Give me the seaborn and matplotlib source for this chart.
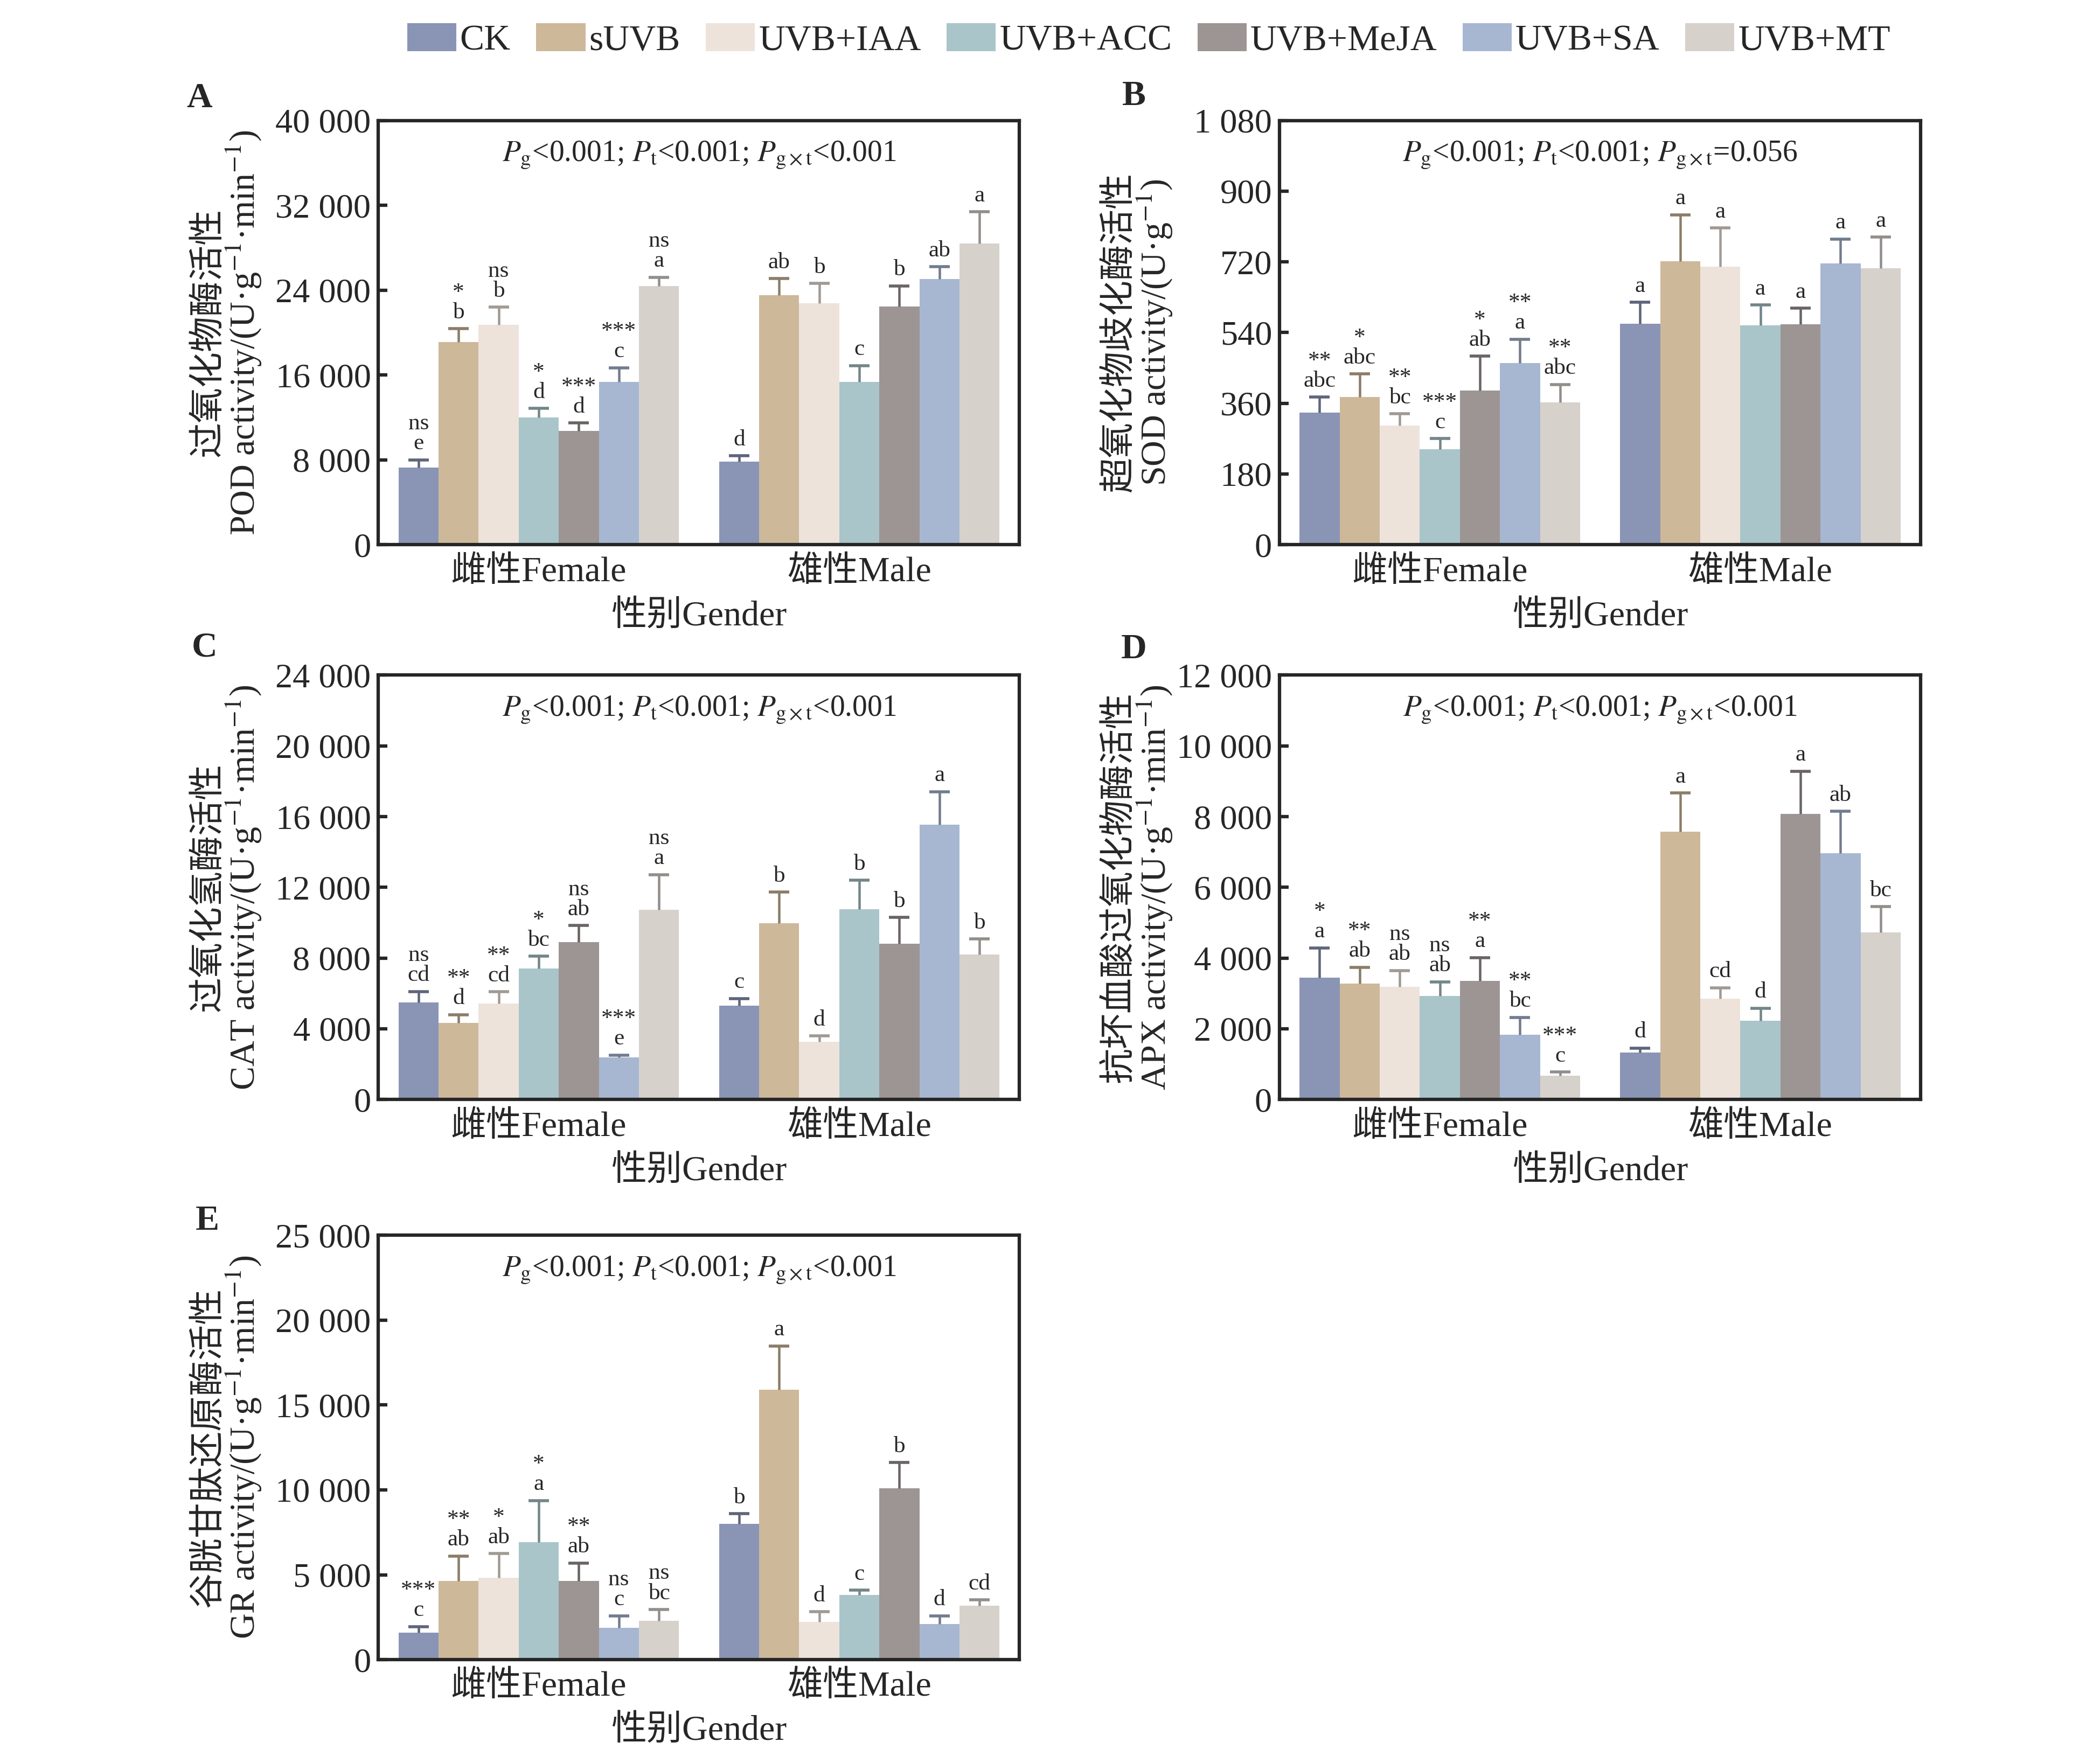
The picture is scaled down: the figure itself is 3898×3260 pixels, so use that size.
import numpy as np
import pandas as pd
import matplotlib
matplotlib.use("Agg")
import matplotlib.pyplot as plt
import seaborn as sns
from matplotlib.patches import Patch
from matplotlib.ticker import FuncFormatter
from matplotlib.colors import to_rgb

# treatments / groups
treatments = ["CK", "sUVB", "UVB+IAA", "UVB+ACC", "UVB+MeJA", "UVB+SA", "UVB+MT"]
genders = ["雌性Female", "雄性Male"]
colors = ["#8a95b5", "#cdb89a", "#ede3da", "#a9c5c9", "#9c9593", "#a7b7d1", "#d7d1cc"]

# A  POD
pod_f = [7300, 19100, 20750, 12000, 10750, 15350, 24400]
pod_f_err = [700, 1270, 1640, 850, 720, 1330, 820]
pod_m = [7850, 23550, 22750, 15350, 22450, 25050, 28400]
pod_m_err = [520, 1540, 1880, 1540, 1950, 1160, 3000]
pod_f_sig = ["ns\ne", "*\nb", "ns\nb", "*\nd", "***\nd", "***\nc", "ns\na"]
pod_m_sig = ["d", "ab", "b", "c", "b", "ab", "a"]

# B  SOD
sod_f = [336, 376, 303, 243, 392, 463, 362]
sod_f_err = [40, 59, 30, 27, 88, 60, 46]
sod_m = [563, 722, 708, 558, 561, 716, 704]
sod_m_err = [54, 118, 98, 52, 41, 62, 79]
sod_f_sig = ["**\nabc", "*\nabc", "**\nbc", "***\nc", "*\nab", "**\na", "**\nabc"]
sod_m_sig = ["a", "a", "a", "a", "a", "a", "a"]

# C  CAT
cat_f = [5500, 4320, 5420, 7400, 8900, 2370, 10720]
cat_f_err = [610, 470, 675, 700, 940, 140, 2000]
cat_m = [5300, 9960, 3270, 10760, 8820, 15530, 8200]
cat_m_err = [410, 1760, 330, 1640, 1470, 1880, 880]
cat_f_sig = ["ns\ncd", "**\nd", "**\ncd", "*\nbc", "ns\nab", "***\ne", "ns\na"]
cat_m_sig = ["c", "b", "d", "b", "b", "a", "b"]

# D  APX
apx_f = [3440, 3270, 3180, 2920, 3360, 1830, 675]
apx_f_err = [850, 470, 470, 410, 655, 490, 100]
apx_m = [1320, 7580, 2850, 2220, 8070, 6970, 4720]
apx_m_err = [133, 1085, 307, 358, 1217, 1176, 737]
apx_f_sig = ["*\na", "**\nab", "ns\nab", "ns\nab", "**\na", "**\nbc", "***\nc"]
apx_m_sig = ["d", "a", "cd", "d", "a", "ab", "bc"]

# E  GR
gr_f = [1580, 4620, 4810, 6920, 4620, 1880, 2300]
gr_f_err = [360, 1480, 1435, 2450, 1077, 700, 655]
gr_m = [8000, 15890, 2220, 3820, 10090, 2110, 3170]
gr_m_err = [590, 2600, 590, 275, 1520, 465, 340]
gr_f_sig = ["***\nc", "**\nab", "*\nab", "*\na", "**\nab", "ns\nc", "ns\nbc"]
gr_m_sig = ["b", "a", "d", "c", "b", "d", "cd"]

p_all = r"$P_{\mathrm{g}}$<0.001; $P_{\mathrm{t}}$<0.001; $P_{\mathrm{g\times t}}$<0.001"
p_sod = r"$P_{\mathrm{g}}$<0.001; $P_{\mathrm{t}}$<0.001; $P_{\mathrm{g\times t}}$=0.056"

sns.set_style("ticks")
plt.rcParams['font.family'] = ['Liberation Serif', 'Noto Sans CJK SC']
plt.rcParams['mathtext.fontset'] = 'stix'
plt.rcParams['axes.unicode_minus'] = True


def fmt(v, pos):
    return f"{int(round(v)):,}".replace(",", " ")


def draw_panel(ax, f, f_err, m, m_err, f_sig, m_sig, ymax, ystep, ylabel, ptext, lab_x):
    df = pd.DataFrame({
        "Gender": np.repeat(genders, len(treatments)),
        "Treatment": treatments * 2,
        "Value": f + m,
    })
    sns.barplot(data=df, x="Gender", y="Value", hue="Treatment", hue_order=treatments,
                palette=colors, width=0.875, errorbar=None, saturation=1, legend=False,
                linewidth=0, ax=ax)
    errs = [f_err, m_err]
    sigs = [f_sig, m_sig]
    bar_conts = list(ax.containers)
    for i, cont in enumerate(bar_conts):
        ecol = tuple(np.array(to_rgb(colors[i])) * 0.68)
        for j, bar in enumerate(cont):
            x = bar.get_x() + bar.get_width() / 2
            h = bar.get_height()
            e = errs[j][i]
            eb = ax.errorbar(x, h, yerr=[[0], [e]], fmt="none", ecolor=ecol,
                             elinewidth=1.3, capsize=5.5, capthick=1.6)
            # only the upper cap is shown
            for cap in eb[1]:
                if np.allclose(cap.get_ydata(), h):
                    cap.set_visible(False)
            ax.annotate(sigs[j][i], (x, h + e), xytext=(0, 3), textcoords="offset points",
                        ha="center", va="bottom", fontsize=12.5, linespacing=0.95)
    ax.set_xlim(-0.5, 1.5)
    ax.set_ylim(0, ymax)
    ax.set_yticks(np.arange(0, ymax + ystep / 2, ystep))
    ax.yaxis.set_major_formatter(FuncFormatter(fmt))
    ax.tick_params(axis="both", direction="in", length=5, width=1.8)
    ax.tick_params(axis="y", labelsize=18.5, pad=4)
    ax.tick_params(axis="x", labelsize=19, pad=6)
    for s in ax.spines.values():
        s.set_linewidth(1.8)
        s.set_visible(True)
    ax.set_xlabel("性别Gender", fontsize=19, labelpad=6)
    ax.set_ylabel(ylabel, fontsize=19, linespacing=0.97)
    ax.yaxis.set_label_coords(lab_x, 0.5)
    ax.text(0.5, 0.918, ptext, transform=ax.transAxes, ha="center", va="center", fontsize=16)


fig = plt.figure(figsize=(15.592, 13.04), dpi=250)
w, h = 0.3053, 0.2416
axA = fig.add_axes([0.1802, 0.6898, w, h])
axB = fig.add_axes([0.6093, 0.6898, w, h])
axC = fig.add_axes([0.1802, 0.3739, w, h])
axD = fig.add_axes([0.6093, 0.3739, w, h])
axE = fig.add_axes([0.1802, 0.0549, w, h])

draw_panel(axA, pod_f, pod_f_err, pod_m, pod_m_err, pod_f_sig, pod_m_sig, 40000, 8000,
           "过氧化物酶活性\nPOD activity/(U·g$^{-1}$·min$^{-1}$)", p_all, -0.18)
draw_panel(axB, sod_f, sod_f_err, sod_m, sod_m_err, sod_f_sig, sod_m_sig, 1080, 180,
           "超氧化物歧化酶活性\nSOD activity/(U·g$^{-1}$)", p_sod, -0.165)
draw_panel(axC, cat_f, cat_f_err, cat_m, cat_m_err, cat_f_sig, cat_m_sig, 24000, 4000,
           "过氧化氢酶活性\nCAT activity/(U·g$^{-1}$·min$^{-1}$)", p_all, -0.18)
draw_panel(axD, apx_f, apx_f_err, apx_m, apx_m_err, apx_f_sig, apx_m_sig, 12000, 2000,
           "抗坏血酸过氧化物酶活性\nAPX activity/(U·g$^{-1}$·min$^{-1}$)", p_all, -0.165)
draw_panel(axE, gr_f, gr_f_err, gr_m, gr_m_err, gr_f_sig, gr_m_sig, 25000, 5000,
           "谷胱甘肽还原酶活性\nGR activity/(U·g$^{-1}$·min$^{-1}$)", p_all, -0.18)

for letter, x, y in [("A", 0.095, 0.944), ("B", 0.540, 0.945), ("C", 0.0975, 0.631),
                     ("D", 0.540, 0.630), ("E", 0.0988, 0.3045)]:
    fig.text(x, y, letter, fontsize=19, fontweight="bold", ha="center", va="center")

handles = [Patch(facecolor=c, edgecolor="none") for c in colors]
fig.legend(handles, treatments, loc="center", bbox_to_anchor=(0.547, 0.977), ncol=7,
           frameon=False, fontsize=19.5, handlelength=1.35, handleheight=0.8,
           handletextpad=0.1, columnspacing=0.7, borderaxespad=0)

fig.savefig("out.png", dpi=250)
